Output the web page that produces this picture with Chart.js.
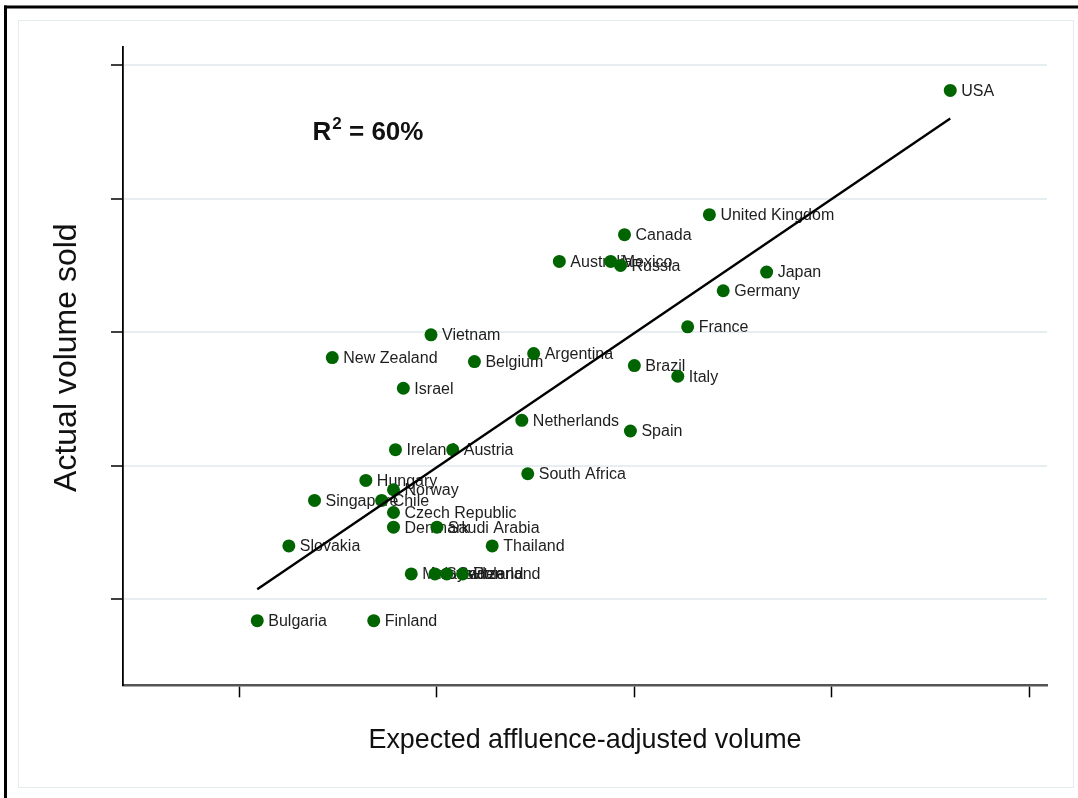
<!DOCTYPE html>
<html>
<head>
<meta charset="utf-8">
<script src="https://cdn.jsdelivr.net/npm/chart.js@4.4.1/dist/chart.umd.min.js"></script>
<style>
  html, body { margin: 0; padding: 0; background: #fff; overflow: hidden; }
  canvas { display: block; }
</style>
</head>
<body>
<canvas id="c" width="1078" height="798"></canvas>
<script>
// Country markets: expected (affluence-adjusted) vs actual volume sold
const countries = [
  'USA', 'United Kingdom', 'Canada', 'Australia', 'Mexico', 'Russia', 'Japan',
  'Germany', 'France', 'Vietnam', 'New Zealand', 'Argentina', 'Belgium', 'Brazil',
  'Italy', 'Israel', 'Netherlands', 'Spain', 'Ireland', 'Austria', 'South Africa',
  'Hungary', 'Norway', 'Singapore', 'Chile', 'Czech Republic', 'Denmark',
  'Saudi Arabia', 'Slovakia', 'Thailand', 'Malaysia', 'Sweden', 'Switzerland',
  'Poland', 'Bulgaria', 'Finland'
];
const expectedVolume = [
  4.60, 3.38, 2.95, 2.62, 2.88, 2.93, 3.67,
  3.45, 3.27, 1.97, 1.47, 2.49, 2.19, 3.00,
  3.22, 1.83, 2.43, 2.98, 1.79, 2.08, 2.46,
  1.64, 1.78, 1.38, 1.72, 1.78, 1.78,
  2.00, 1.25, 2.28, 1.87, 1.99, 2.05,
  2.13, 1.09, 1.68
];
const actualVolume = [
  4.81, 3.88, 3.73, 3.53, 3.53, 3.50, 3.45,
  3.31, 3.04, 2.98, 2.81, 2.84, 2.78, 2.75,
  2.67, 2.58, 2.34, 2.26, 2.12, 2.12, 1.94,
  1.89, 1.82, 1.74, 1.74, 1.65, 1.54,
  1.54, 1.40, 1.40, 1.19, 1.19, 1.19,
  1.19, 0.84, 0.84
];

// Least-squares fit line end points
const fitExpected = [1.09, 4.60];
const fitActual = [1.075, 4.60];

// Unlabelled tick positions on both axes
const xTicks = [1, 2, 3, 4, 5];
const yTicks = [1, 2, 3, 4, 5];
const xRange = [0.41, 5.09];
const yRange = [0.356, 5.135];

const rSquared = 60;
const rSquaredAt = { x: 1.37, y: 4.51 };
const yTitle = 'Actual volume sold';

const FONT = "'Liberation Sans', Arial, Helvetica, sans-serif";

// White page with the outer black edge and inner faint frame
const framePlugin = {
  id: 'frame',
  beforeDraw(chart) {
    const ctx = chart.ctx;
    ctx.save();
    ctx.fillStyle = '#ffffff';
    ctx.fillRect(0, 0, chart.width, chart.height);
    ctx.fillStyle = '#000000';
    ctx.fillRect(4, 5.5, chart.width - 4, 3);
    ctx.fillRect(4, 5.5, 3, chart.height - 5.5);
    ctx.strokeStyle = '#e4ecee';
    ctx.lineWidth = 1;
    ctx.strokeRect(18.5, 20.5, 1055, 767);
    ctx.restore();
  },
  afterDraw(chart) {
    // vertical axis title, sitting a little above the plot's middle
    const ctx = chart.ctx;
    const area = chart.chartArea;
    ctx.save();
    ctx.translate(67, (area.top + area.bottom) / 2 - 8.5);
    ctx.rotate(-Math.PI / 2);
    ctx.font = '32px ' + FONT;
    ctx.fillStyle = '#111';
    ctx.textAlign = 'center';
    ctx.textBaseline = 'middle';
    ctx.fillText(yTitle, 0, 0);
    ctx.restore();
  }
};

// Country names to the right of each marker (markers are painted over them)
const pointLabelPlugin = {
  id: 'pointLabels',
  beforeDatasetsDraw(chart) {
    const meta = chart.getDatasetMeta(1);
    const ctx = chart.ctx;
    ctx.save();
    ctx.font = '16px ' + FONT;
    ctx.fillStyle = '#1e1e1e';
    ctx.textAlign = 'left';
    ctx.textBaseline = 'middle';
    meta.data.forEach((pt, i) => {
      ctx.fillText(countries[i], pt.x + 11, pt.y + 1);
    });
    ctx.restore();
  },
  afterDatasetsDraw(chart) {
    const ctx = chart.ctx;
    const x = chart.scales.x.getPixelForValue(rSquaredAt.x);
    const y = chart.scales.y.getPixelForValue(rSquaredAt.y);
    ctx.save();
    ctx.fillStyle = '#111';
    ctx.textBaseline = 'alphabetic';
    ctx.textAlign = 'left';
    ctx.font = 'bold 26px ' + FONT;
    ctx.fillText('R', x, y + 9.5);
    let cx = x + ctx.measureText('R').width + 1;
    ctx.font = 'bold 17px ' + FONT;
    ctx.fillText('2', cx, y - 1);
    cx += ctx.measureText('2').width;
    ctx.font = 'bold 26px ' + FONT;
    ctx.fillText(' = ' + rSquared + '%', cx, y + 9.5);
    ctx.restore();
  }
};

const fitPoints = fitExpected.map((v, i) => ({ x: v, y: fitActual[i] }));
const marketPoints = expectedVolume.map((v, i) => ({ x: v, y: actualVolume[i] }));

new Chart(document.getElementById('c'), {
  data: {
    datasets: [
      {
        type: 'line',
        label: 'Fit',
        data: fitPoints,
        borderColor: '#000',
        borderWidth: 2.4,
        pointRadius: 0,
        fill: false,
        tension: 0,
        order: 0
      },
      {
        type: 'scatter',
        label: 'Markets',
        data: marketPoints,
        backgroundColor: '#006400',
        borderColor: '#006400',
        borderWidth: 0,
        pointRadius: 6.5,
        pointHoverRadius: 6.5,
        order: 1
      }
    ]
  },
  options: {
    responsive: false,
    animation: false,
    devicePixelRatio: 1,
    events: [],
    layout: { padding: { left: 111, right: 31, top: 47, bottom: 30.8 } },
    plugins: {
      legend: { display: false },
      tooltip: { enabled: false },
      title: { display: false }
    },
    scales: {
      x: {
        type: 'linear',
        position: 'bottom',
        min: xRange[0],
        max: xRange[1],
        afterBuildTicks: s => { s.ticks = xTicks.map(v => ({ value: v })); },
        ticks: { display: false },
        grid: {
          drawOnChartArea: false,
          drawTicks: true,
          tickLength: 12,
          tickColor: '#000',
          tickWidth: 1.5
        },
        border: { display: true, color: '#555', width: 2.5 },
        title: {
          display: true,
          text: 'Expected affluence-adjusted volume',
          color: '#111',
          font: { family: FONT, size: 26.9, lineHeight: 1.2 },
          padding: { top: 27.6, bottom: 10 }
        }
      },
      y: {
        type: 'linear',
        position: 'left',
        min: yRange[0],
        max: yRange[1],
        afterBuildTicks: s => { s.ticks = yTicks.map(v => ({ value: v })); },
        ticks: { display: false },
        grid: {
          drawOnChartArea: true,
          color: '#e6eef1',
          lineWidth: 2,
          drawTicks: true,
          tickLength: 12,
          tickColor: '#000',
          tickWidth: 1.5
        },
        border: { display: true, color: '#000', width: 1.8 },
        title: { display: false }
      }
    }
  },
  plugins: [framePlugin, pointLabelPlugin]
});
</script>
</body>
</html>
